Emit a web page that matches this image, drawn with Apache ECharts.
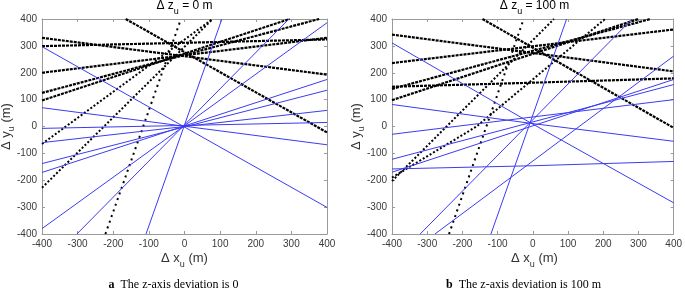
<!DOCTYPE html>
<html>
<head>
<meta charset="utf-8">
<script src="https://cdn.jsdelivr.net/npm/echarts@6/dist/echarts.min.js"></script>
<style>
html,body{margin:0;padding:0;background:#fff;}
#main{width:685px;height:293px;}
</style>
</head>
<body>
<div id="main"></div>
<script>
// panel a : dz = 0 m   (each line = list of [dx, dy] points)
var blueA = [
    [[-400, 297], [400, -301]],
    [[-400, 70], [400, -68]],
    [[-400, -7], [400, 15]],
    [[-400, -60], [400, 60]],
    [[-400, -138], [400, 135]],
    [[-400, -171], [400, 175]],
    [[-400, -380], [400, 386]],
    [[-302, -400], [293, 400]],
    [[-108, -400], [105, 400]]
];
var denseA = [
    [[-400, 330], [400, 193]],
    [[-400, 299], [400, 324]],
    [[-400, 200], [400, 330]],
    [[-400, 125], [378, 400]],
    [[-400, 97], [295, 400]],
    [[-165, 400], [400, -22]]
];
var dotA = [
    [[-400, -65], [79, 400]],
    [[-400, -228], [79, 400]]
];
var sparseA = [
    [[-222, -400], [-10, 400]]
];

// panel b : dz = 100 m
var blueB = [
    [[-400, 311], [-7, 14], [400, -284]],
    [[-400, 82], [-7, 12], [400, -55]],
    [[-400, -29], [400, 100]],
    [[-400, -122], [400, 156]],
    [[-400, -170], [400, 175]],
    [[-400, -158], [0, -146], [400, -130]],
    [[-278, -400], [400, 262]],
    [[-320, -400], [282, 400]],
    [[-119, -400], [96, 400]]
];
var denseB = [
    [[-143, 400], [400, -5]],
    [[-400, 342], [400, 205]],
    [[-400, 148], [0, 163], [400, 179]],
    [[-400, 140], [334, 400]],
    [[-400, 98], [300, 400]],
    [[-400, 236], [400, 361]]
];
var dotB = [
    [[-400, -203], [60, 400]],
    [[-400, -190], [-160, 0], [205, 400]]
];
var sparseB = [
    [[-238, -400], [-26, 400]]
];

var axisMin = -400, axisMax = 400, tickStep = 100;
var panelTitles = ['0 m', '100 m'];
var captions = [['a', 'The z-axis deviation is 0'], ['b', 'The z-axis deviation is 100 m']];

var FONT = 'Liberation Sans, Arial, sans-serif';

var myChart = echarts.init(document.getElementById('main'));

// grid positions
var grids = [
    {left: 42, top: 19, width: 285, height: 215},
    {left: 392, top: 19, width: 285, height: 215}
];

var xAxes = [], yAxes = [];
function boxAxis(i, pos, labels) {
    return {
        gridIndex: i, type: 'value', position: pos, min: axisMin, max: axisMax, interval: tickStep,
        axisLine: {show: true, onZero: false, lineStyle: {color: '#9a9a9a', width: 1}},
        axisTick: {show: true, inside: true, length: 3, lineStyle: {color: '#9a9a9a'}},
        axisLabel: {show: labels, color: '#3a3a3a', fontSize: 10, fontFamily: FONT, margin: 5},
        splitLine: {show: false},
        axisPointer: {show: false}
    };
}
grids.forEach(function (g, i) {
    xAxes.push(boxAxis(i, 'bottom', true));
    yAxes.push(boxAxis(i, 'left', true));
});
grids.forEach(function (g, i) {
    xAxes.push(boxAxis(i, 'top', false));
    yAxes.push(boxAxis(i, 'right', false));
});

// one 'lines' series per group, polylines placed through the axes
var series = [];
function addLines(lines, idx, style, z) {
    series.push({
        type: 'lines', coordinateSystem: 'cartesian2d', polyline: true,
        xAxisIndex: idx, yAxisIndex: idx, silent: true, clip: true, z: z,
        data: lines.map(function (c) { return {coords: c}; }),
        lineStyle: style,
        effect: {show: false}
    });
}
var blueStyle = {color: '#3b3bf5', width: 1, opacity: 1};
var denseStyle = {color: '#000', width: 2.2, type: [3, 1], opacity: 1};
var dotStyle = {color: '#000', width: 2, type: [2, 2], opacity: 1};
var sparseStyle = {color: '#000', width: 2, type: [2, 4], opacity: 1};

addLines(denseA, 0, denseStyle, 2);
addLines(dotA, 0, dotStyle, 2);
addLines(sparseA, 0, sparseStyle, 2);
addLines(blueA, 0, blueStyle, 3);
addLines(denseB, 1, denseStyle, 2);
addLines(dotB, 1, dotStyle, 2);
addLines(sparseB, 1, sparseStyle, 2);
addLines(blueB, 1, blueStyle, 3);

// texts with subscripts
var richMain = {
    a: {fontSize: 12, fontFamily: FONT, fill: '#000', color: '#000', padding: [0, 0, 4, 0], verticalAlign: 'bottom'},
    s: {fontSize: 9, fontFamily: FONT, fill: '#000', color: '#000', verticalAlign: 'bottom'}
};
var richAxis = {
    a: {fontSize: 13, fontFamily: FONT, fill: '#333', color: '#333', padding: [0, 0, 4, 0], verticalAlign: 'bottom'},
    s: {fontSize: 9, fontFamily: FONT, fill: '#333', color: '#333', verticalAlign: 'bottom'}
};
var richCap = {
    b: {fontSize: 12, fontFamily: 'Liberation Serif, serif', fontWeight: 'bold', fill: '#000'},
    n: {fontSize: 12, fontFamily: 'Liberation Serif, serif', fill: '#000'}
};

var graphic = [];
grids.forEach(function (g, i) {
    var cx = g.left + g.width / 2;
    graphic.push({
        type: 'text', x: cx, y: 0,
        style: {text: '{a|Δ z}{s|u}{a| = ' + panelTitles[i] + '}', rich: richMain, align: 'center', verticalAlign: 'top'}
    });
    graphic.push({
        type: 'text', x: cx, y: 252,
        style: {text: '{a|Δ x}{s|u}{a| (m)}', rich: richAxis, align: 'center', verticalAlign: 'top'}
    });
    graphic.push({
        type: 'text', x: g.left - 34, y: g.top + g.height / 2, rotation: Math.PI / 2,
        style: {text: '{a|Δ y}{s|u}{a| (m)}', rich: richAxis, align: 'center', verticalAlign: 'middle'}
    });
    graphic.push({
        type: 'text', x: cx - 11, y: 279,
        style: {text: '{b|' + captions[i][0] + '}{n|  ' + captions[i][1] + '}', rich: richCap, align: 'center', verticalAlign: 'top'}
    });
});

var option = {
    animation: false,
    backgroundColor: '#fff',
    grid: grids,
    xAxis: xAxes,
    yAxis: yAxes,
    series: series,
    graphic: graphic
};

myChart.setOption(option);
</script>
</body>
</html>
